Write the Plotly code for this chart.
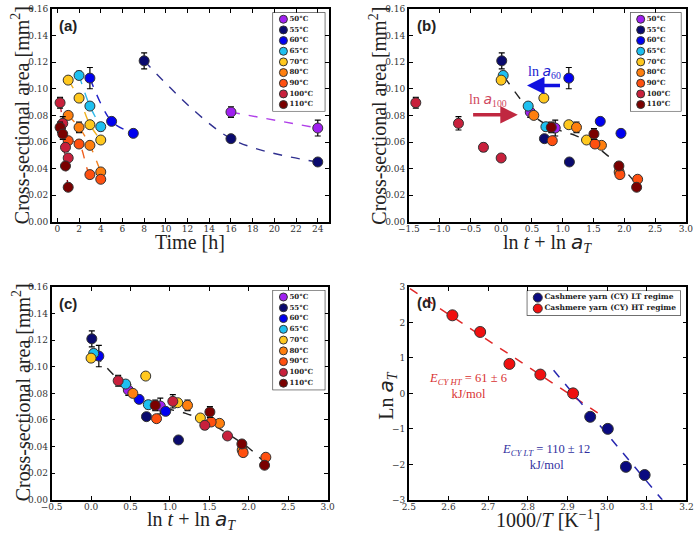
import numpy as np
import plotly.graph_objects as go

# ---------------- data ----------------
temps = [50, 55, 60, 65, 70, 80, 90, 100, 110]
temp_labels = [f"{t}°C" for t in temps]
colors = ["#A020F0", "#0A0A6E", "#0000F0", "#1EC0F0", "#FFC81E",
          "#FF7F0E", "#FF5010", "#C8203C", "#7A0000"]
line_colors = ["#B040E8", "#303090", "#2020C8", "#30B8E8", "#F0B020",
               "#F08020", "#F06020", "#C03040", "#800010"]

times = [[16, 24], [8, 16, 24], [3, 5, 7], [2, 3, 4], [1, 2, 3, 4],
         [1, 2, 3, 4], [1, 2, 3, 4], [0.25, 0.5, 0.75, 1], [0.25, 0.5, 0.75, 1]]
areas = [[0.0825, 0.0705], [0.121, 0.0625, 0.045], [0.108, 0.0755, 0.0665],
         [0.110, 0.087, 0.0715], [0.1065, 0.093, 0.073, 0.0615],
         [0.080, 0.071, 0.0575, 0.0375], [0.061, 0.0585, 0.0355, 0.032],
         [0.0895, 0.074, 0.056, 0.048], [0.071, 0.066, 0.042, 0.026]]
errors = [[0.004, 0.006], [0.006, 0.002, 0.0], [0.008, 0.0, 0.0],
          [0.003, 0.002, 0.003], [0.002, 0.002, 0.002, 0.002],
          [0.002, 0.004, 0.002, 0.002], [0.002, 0.002, 0.001, 0.001],
          [0.004, 0.005, 0.003, 0.002], [0.004, 0.004, 0.002, 0.002]]

# shift factors (reference 70 °C)
ln_aT = [-2.30, -2.07, -1.00, -0.66, 0.0, 0.53, 0.83, 1.73, 2.20]
# panel (b): 60 °C and 100 °C not yet shifted
ln_aT_partial = [-2.30, -2.07, 0.0, -0.66, 0.0, 0.53, 0.83, 0.0, 2.20]

# master curve (dashed)
master_x = [0.05, 0.35, 0.6, 0.9, 1.2, 1.5, 1.75, 2.0, 2.2]
master_y = [0.109, 0.090, 0.077, 0.0695, 0.065, 0.058, 0.049, 0.039, 0.028]

# panel (d)
lt_temps = [65, 60, 55, 50]
lt_lnaT = [-0.66, -1.00, -2.07, -2.30]
ht_temps = [110, 100, 90, 80, 70]
ht_lnaT = [2.20, 1.73, 0.83, 0.53, 0.0]
ht_fit_x = [2.503, 2.986]
ht_fit_y = [2.95, -0.62]
lt_fit_x = [2.865, 3.139]
lt_fit_y = [0.65, -3.0]

# ---------------- layout helpers ----------------
W, H = 700, 533


def px(xp):
    return xp / W


def py(yp):
    return 1 - yp / H


tickfont = dict(family="DejaVu Serif", size=9, color="#333333")


def axis(domain, rng, dtick, fmt, anchor, standoff=0):
    return dict(domain=domain, range=rng, dtick=dtick, tickformat=fmt, anchor=anchor,
                showline=True, linecolor="black", linewidth=1.6, mirror="ticks",
                ticks="inside", ticklen=4, tickwidth=1, tickcolor="black",
                showgrid=False, zeroline=False, tickfont=tickfont,
                ticklabelstandoff=standoff)


fig = go.Figure()

panels = {
    "a": dict(x=(42, 326), y=(4, 221)),
    "b": dict(x=(408.3, 692.7), y=(4, 221)),
    "c": dict(x=(41.7, 325), y=(287.3, 504.3)),
    "d": dict(x=(408.3, 693.3), y=(287.3, 504.3)),
}


def dom(p):
    return [px(panels[p]["x"][0]), px(panels[p]["x"][1])], [py(panels[p]["y"][1]), py(panels[p]["y"][0])]


xa, ya = dom("a")
xb, yb = dom("b")
xc, yc = dom("c")
xd, yd = dom("d")

layout = dict(
    width=W, height=H, margin=dict(l=0, r=0, t=0, b=0),
    paper_bgcolor="white", plot_bgcolor="white", showlegend=False,
    xaxis=axis(xa, [-0.5, 25], 2, "d", "y", -2),
    yaxis=axis(ya, [0, 0.16], 0.02, ".2f", "x"),
    xaxis2=axis(xb, [-1.5, 3.0], 0.5, ".1f", "y2", -2),
    yaxis2=axis(yb, [0, 0.16], 0.02, ".2f", "x2"),
    xaxis3=axis(xc, [-0.5, 3.0], 0.5, ".1f", "y3", -2),
    yaxis3=axis(yc, [0, 0.16], 0.02, ".2f", "x3"),
    xaxis4=axis(xd, [2.5, 3.2], 0.1, ".1f", "y4", -2),
    yaxis4=axis(yd, [-3, 3], 1, "d", "x4"),
)

marker_line = dict(color="#333333", width=1)
err_style = dict(type="data", color="black", thickness=1.2, width=3)

# ---------------- panel (a) ----------------
for i in range(len(temps)):
    fig.add_trace(go.Scatter(x=times[i], y=areas[i], mode="lines", xaxis="x", yaxis="y",
                             line=dict(color=line_colors[i], width=1.4, dash="dash",
                                       shape="spline", smoothing=0.9),
                             hoverinfo="skip"))
for i in range(len(temps)):
    fig.add_trace(go.Scatter(x=times[i], y=areas[i], mode="markers", xaxis="x", yaxis="y",
                             marker=dict(size=10, color=colors[i], line=marker_line),
                             error_y=dict(array=errors[i], **err_style), name=temp_labels[i]))

# ---------------- panels (b) and (c) ----------------
for xname, yname, shifts in (("x2", "y2", ln_aT_partial), ("x3", "y3", ln_aT)):
    fig.add_trace(go.Scatter(x=master_x, y=master_y, mode="lines", xaxis=xname, yaxis=yname,
                             line=dict(color="#222222", width=1.4, dash="dash",
                                       shape="spline", smoothing=0.8)))
    for i in range(len(temps)):
        xs = np.log(np.array(times[i])) + shifts[i]
        fig.add_trace(go.Scatter(x=xs, y=areas[i], mode="markers", xaxis=xname, yaxis=yname,
                                 marker=dict(size=10, color=colors[i], line=marker_line),
                                 error_y=dict(array=errors[i], **err_style)))

# ---------------- panel (d) ----------------
fig.add_trace(go.Scatter(x=ht_fit_x, y=ht_fit_y, mode="lines", xaxis="x4", yaxis="y4",
                         line=dict(color="#E02828", width=1.5, dash="dash")))
fig.add_trace(go.Scatter(x=lt_fit_x, y=lt_fit_y, mode="lines", xaxis="x4", yaxis="y4",
                         line=dict(color="#2828B0", width=1.5, dash="dash")))
inv_T = lambda ts: [1000.0 / (t + 273.15) for t in ts]
fig.add_trace(go.Scatter(x=inv_T(ht_temps), y=ht_lnaT, mode="markers", xaxis="x4", yaxis="y4",
                         marker=dict(size=11, color="#F01010", line=marker_line)))
fig.add_trace(go.Scatter(x=inv_T(lt_temps), y=lt_lnaT, mode="markers", xaxis="x4", yaxis="y4",
                         marker=dict(size=11, color="#0A0A80", line=marker_line)))

# ---------------- custom legends ----------------
legend_boxes = [((269, 322), (8, 108)), ((636, 687.5), (8, 108)), ((269, 322), (291, 392))]
shapes = []
for k, (bx, by) in enumerate(legend_boxes):
    n = 5 + k
    layout[f"xaxis{n}"] = dict(domain=[px(bx[0]), px(bx[1])], range=[0, 1], visible=False,
                               anchor=f"y{n}", fixedrange=True)
    layout[f"yaxis{n}"] = dict(domain=[py(by[1]), py(by[0])], range=[len(temps) - 0.4, -0.6],
                               visible=False, anchor=f"x{n}", fixedrange=True)
    shapes.append(dict(type="rect", xref=f"x{n} domain", yref=f"y{n} domain", x0=0, x1=1, y0=0, y1=1,
                       line=dict(color="#333333", width=1.3), fillcolor="white", layer="below"))
    fig.add_trace(go.Scatter(x=[0.2] * len(temps), y=list(range(len(temps))), mode="markers+text",
                             xaxis=f"x{n}", yaxis=f"y{n}", text=temp_labels, textposition="middle right",
                             textfont=dict(family="DejaVu Serif", size=7, color="#222222", weight="bold"),
                             marker=dict(size=8, color=colors, line=marker_line), cliponaxis=False))

d_labels = ["Cashmere yarn (CY) LT regime", "Cashmere yarn (CY) HT regime"]
d_colors = ["#0A0A80", "#F01010"]
layout["xaxis8"] = dict(domain=[px(530), px(687)], range=[0, 1], visible=False, anchor="y8")
layout["yaxis8"] = dict(domain=[py(316), py(291.5)], range=[1.6, -0.6], visible=False, anchor="x8")
shapes.append(dict(type="rect", xref="x8 domain", yref="y8 domain", x0=0, x1=1, y0=0, y1=1,
                   line=dict(color="#333333", width=1.3), fillcolor="white", layer="below"))
fig.add_trace(go.Scatter(x=[0.068] * 2, y=[0, 1], mode="markers+text", xaxis="x8", yaxis="y8",
                         text=d_labels, textposition="middle right",
                         textfont=dict(family="DejaVu Serif", size=7.5, color="#222222", weight="bold"),
                         marker=dict(size=9, color=d_colors, line=marker_line), cliponaxis=False))

# ---------------- annotations ----------------
ann = []
title_font = dict(family="Liberation Serif", size=20, color="#222222")
ylab = "Cross-sectional area [mm<sup>2</sup>]"
aT = '<i><span style="font-family:DejaVu Sans">a</span></i><sub><i>T</i></sub>'
xlab_shift = f"ln <i>t</i> + ln {aT}"
for (x, y, text, ang) in [
    (10, 112.5, ylab, -90), (377, 112.5, ylab, -90), (10, 395, ylab, -90),
    (385, 398, f"Ln {aT}", -90),
    (184, 242, "Time [h]", 0), (551, 243, xlab_shift, 0), (185, 525, xlab_shift, 0),
    (551, 524, "1000/<i>T</i> [K<sup>−1</sup>]", 0),
]:
    ann.append(dict(x=px(x), y=py(y), xref="paper", yref="paper", text=text, showarrow=False,
                    textangle=ang, font=title_font, xanchor="center", yanchor="middle"))

for (x, y, t) in [(59, 21, "(a)"), (426, 21, "(b)"), (59, 304, "(c)"), (426, 303, "(d)")]:
    ann.append(dict(x=px(x), y=py(y), xref="paper", yref="paper", text=f"<b>{t}</b>", showarrow=False,
                    font=dict(family="Liberation Sans", size=15, color="#222222"),
                    xanchor="center", yanchor="middle"))

# shift arrows in (b)
ann.append(dict(x=0.42, y=0.1025, ax=0.98, ay=0.1025, xref="x2", yref="y2", axref="x2", ayref="y2",
                showarrow=True, arrowhead=2, arrowsize=1, arrowwidth=3.5, arrowcolor="#1010E0", text=""))
ann.append(dict(x=0.27, y=0.0804, ax=-0.48, ay=0.0804, xref="x2", yref="y2", axref="x2", ayref="y2",
                showarrow=True, arrowhead=2, arrowsize=1, arrowwidth=3.5, arrowcolor="#C02840", text=""))
a_it = '<i><span style="font-family:DejaVu Sans">a</span></i>'
ann.append(dict(x=0.71, y=0.1128, xref="x2", yref="y2", showarrow=False,
                text=f"ln {a_it}<sub>60</sub>", font=dict(family="Liberation Serif", size=14, color="#2020D0")))
ann.append(dict(x=-0.21, y=0.0914, xref="x2", yref="y2", showarrow=False,
                text=f"ln {a_it}<sub>100</sub>", font=dict(family="Liberation Serif", size=14, color="#D04860")))

# activation energies in (d)
ann.append(dict(x=2.648, y=0.22, xref="x4", yref="y4", showarrow=False,
                text="<i>E</i><sub><i>CY HT</i></sub> = 61 ± 6<br>kJ/mol",
                font=dict(family="Liberation Serif", size=12.5, color="#D83030")))
ann.append(dict(x=2.846, y=-1.79, xref="x4", yref="y4", showarrow=False,
                text="<i>E</i><sub><i>CY LT</i></sub> = 110 ± 12<br>kJ/mol",
                font=dict(family="Liberation Serif", size=12.5, color="#3030A0")))

layout["annotations"] = ann
layout["shapes"] = shapes
fig.update_layout(**layout)
fig.write_html("out.html")
